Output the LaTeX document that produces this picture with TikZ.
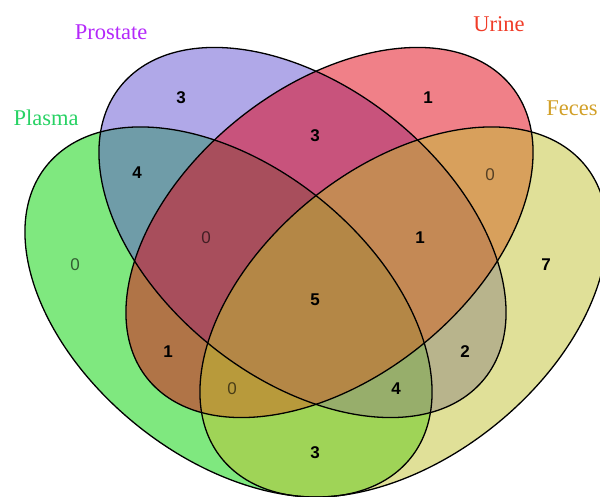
\documentclass[tikz,border=0pt]{standalone}
\usepackage{fontspec}
\setmainfont{Liberation Serif}
\newfontfamily\numfont{Liberation Sans}
\definecolor{cPlasma}{RGB}{0,209,0}
\definecolor{cProstate}{RGB}{97,81,209}
\definecolor{cUrine}{RGB}{225,1,17}
\definecolor{cFeces}{RGB}{193,193,49}
\definecolor{tPlasma}{RGB}{40,210,100}
\definecolor{tProstate}{RGB}{180,40,250}
\definecolor{tUrine}{RGB}{240,60,40}
\definecolor{tFeces}{RGB}{210,160,40}
\tikzset{
  setfill/.style={fill=#1, fill opacity=0.5, draw=none},
  setline/.style={draw=black, line width=1.3pt},
  vshape/.style={x radius=221.4pt, y radius=139.5pt},
  catlabel/.style={font=\fontsize{22.5}{24}\selectfont, text=#1, inner sep=0pt},
  numlab/.style={font=\numfont\bfseries\fontsize{17}{18}\selectfont, text=black, inner sep=0pt},
  zerolab/.style={font=\numfont\fontsize{17}{18}\selectfont, text=black, text opacity=0.6, inner sep=0pt}
}
\begin{document}
\begin{tikzpicture}[x=1pt,y=1pt]
\useasboundingbox (0,0) rectangle (600,496);
% ellipses (y-up coordinates)
\fill[setfill=cPlasma, shift={(228.5pt,184pt)}, xscale=1.1, rotate=-45] (0,0) ellipse [vshape];
\fill[setfill=cProstate, shift={(302.5pt,263.5pt)}, xscale=1.1, rotate=-45] (0,0) ellipse [vshape];
\fill[setfill=cUrine, shift={(329.5pt,263.5pt)}, xscale=1.1, rotate=45] (0,0) ellipse [vshape];
\fill[setfill=cFeces, shift={(403.5pt,184pt)}, xscale=1.1, rotate=45] (0,0) ellipse [vshape];
\draw[setline, shift={(228.5pt,184pt)}, xscale=1.1, rotate=-45] (0,0) ellipse [vshape];
\draw[setline, shift={(302.5pt,263.5pt)}, xscale=1.1, rotate=-45] (0,0) ellipse [vshape];
\draw[setline, shift={(329.5pt,263.5pt)}, xscale=1.1, rotate=45] (0,0) ellipse [vshape];
\draw[setline, shift={(403.5pt,184pt)}, xscale=1.1, rotate=45] (0,0) ellipse [vshape];
% category labels
\node[catlabel=tProstate] (lProstate) at (111,464) {Prostate};
\node[catlabel=tUrine] (lUrine) at (499,472) {Urine};
\node[catlabel=tPlasma] (lPlasma) at (46,378) {Plasma};
\node[catlabel=tFeces] (lFeces) at (572,388) {Feces};
% counts
\node[zerolab] (n1) at (75,231) {0};
\node[numlab] (n2) at (181,398) {3};
\node[numlab] (n3) at (428,398) {1};
\node[numlab] (n4) at (546,231) {7};
\node[numlab] (n5) at (137,323) {4};
\node[numlab] (n6) at (315,360) {3};
\node[zerolab] (n7) at (490,321) {0};
\node[zerolab] (n8) at (206,258) {0};
\node[numlab] (n9) at (420,258) {1};
\node[numlab] (n10) at (315,196) {5};
\node[numlab] (n11) at (168,144) {1};
\node[numlab] (n12) at (465,144) {2};
\node[zerolab] (n13) at (232,107) {0};
\node[numlab] (n14) at (396,107) {4};
\node[numlab] (n15) at (315,43) {3};
\end{tikzpicture}
\end{document}
